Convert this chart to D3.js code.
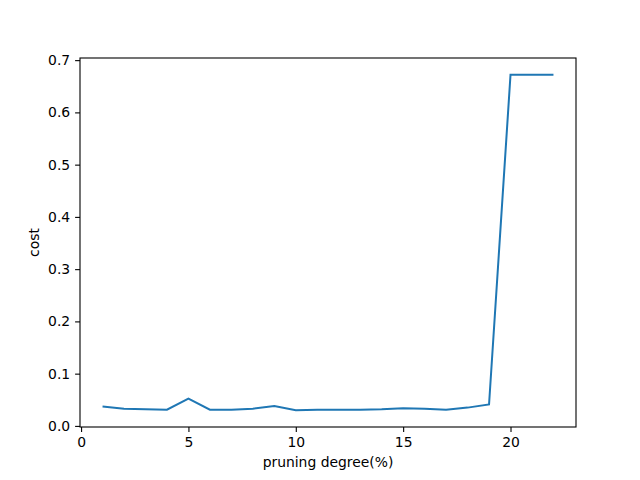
<!DOCTYPE html>
<html><head><meta charset="utf-8">
<script src="https://cdn.jsdelivr.net/npm/d3@7"></script>
<style>body{margin:0;background:#fff}text{font-family:"DejaVu Sans";}</style>
</head><body><svg id="c" width="640" height="480"></svg>
<script>
const degrees = [1,2,3,4,5,6,7,8,9,10,11,12,13,14,15,16,17,18,19,20,21,22];
const costs = [0.037,0.033,0.032,0.031,0.052,0.031,0.031,0.033,0.038,0.030,0.031,0.031,0.031,0.032,0.034,0.033,0.031,0.035,0.041,0.672,0.672,0.672];
const xTicks = [0,5,10,15,20];
const yTicks = [0,0.1,0.2,0.3,0.4,0.5,0.6,0.7];
const L=80,R=576,T=58,B=427,FS=13.9;
const svg=d3.select("#c");
const lo=d3.min(costs),hi=d3.max(costs),m=(hi-lo)*0.05;
const x=d3.scaleLinear().domain([1-1.05,22+1.05]).range([L,R]);
const y=d3.scaleLinear().domain([lo-m,hi+m]).range([B,T]);
svg.append("path").datum(degrees.map((d,i)=>[d,costs[i]]))
 .attr("fill","none").attr("stroke","#1f77b4").attr("stroke-width",2)
 .attr("d",d3.line().x(d=>x(d[0])).y(d=>y(d[1])));
const xa=svg.append("g").attr("transform",`translate(0,${B})`).call(d3.axisBottom(x).tickValues(xTicks).tickFormat(d3.format("d")).tickSizeOuter(0).tickSize(4.9).tickPadding(4.9));
const ya=svg.append("g").attr("transform",`translate(${L},0)`).call(d3.axisLeft(y).tickValues(yTicks).tickFormat(d3.format(".1f")).tickSizeOuter(0).tickSize(4.9).tickPadding(4.9));
[xa,ya].forEach(a=>{a.select(".domain").remove();a.selectAll("text").attr("font-size",FS).attr("fill","#000").attr("font-family","DejaVu Sans");a.selectAll("line").attr("stroke","#000").attr("stroke-width",1.1);});
svg.append("rect").attr("x",L).attr("y",T).attr("width",R-L).attr("height",B-T).attr("fill","none").attr("stroke","#000").attr("stroke-width",1.1);
svg.append("text").attr("x",(L+R)/2).attr("y",467).attr("text-anchor","middle").attr("font-size",FS).text("pruning degree(%)");
svg.append("text").attr("transform",`translate(39,${(T+B)/2}) rotate(-90)`).attr("text-anchor","middle").attr("font-size",FS).text("cost");
</script></body></html>
